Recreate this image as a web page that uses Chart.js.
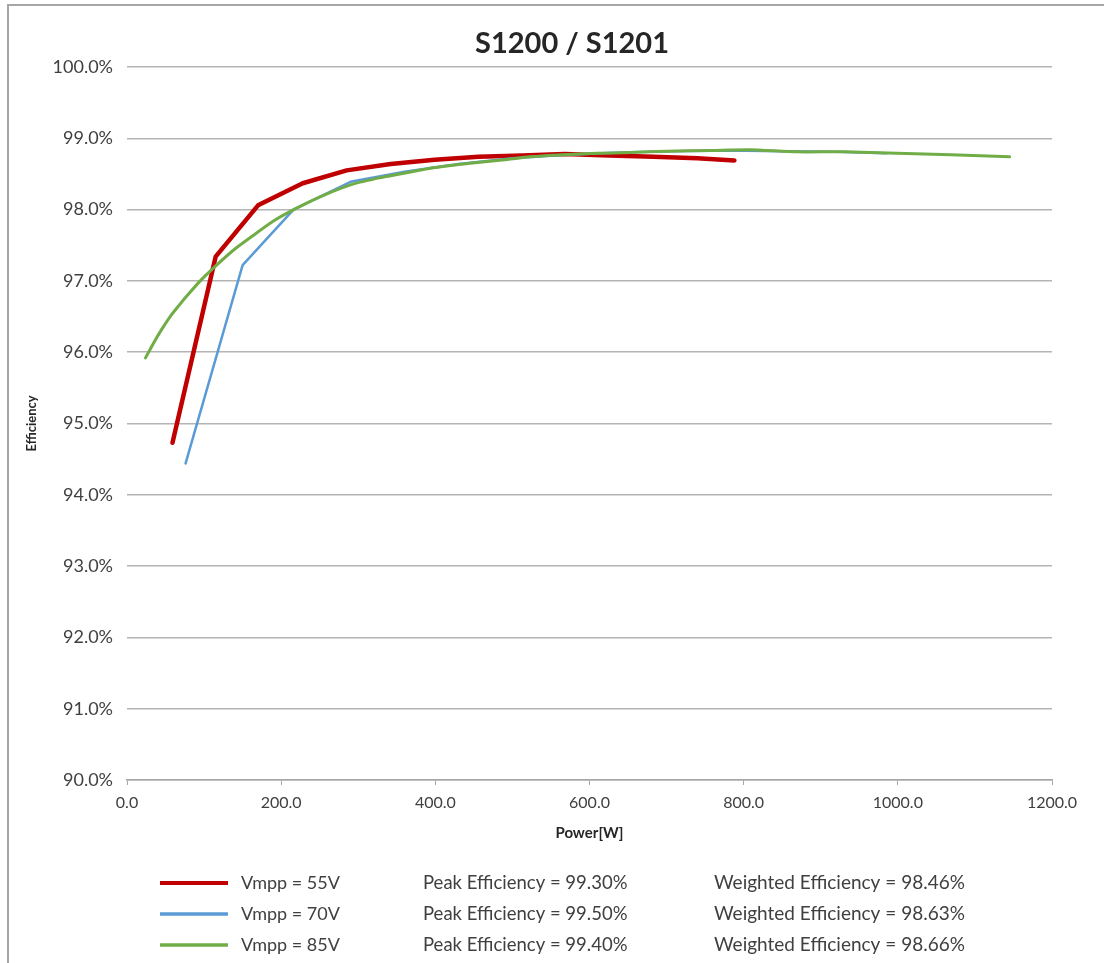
<!DOCTYPE html>
<html>
<head>
<meta charset="utf-8">
<script src="https://cdn.jsdelivr.net/npm/chart.js@4/dist/chart.umd.min.js"></script>
<style>
  html, body { margin: 0; background: #fff; }
</style>
</head>
<body>
<canvas id="effChart" width="1104" height="963"></canvas>
<script>
// S1200 / S1201 efficiency curves

const chartTitle = 'S1200 / S1201';

// Vmpp = 55V
const powerV55 = [59, 115, 170, 228, 285, 342, 399, 456, 513, 568, 626, 683, 740, 788];
const effV55 = [94.73, 97.34, 98.06, 98.37, 98.55, 98.64, 98.70, 98.74, 98.76, 98.78, 98.76, 98.74, 98.72, 98.69];

// Vmpp = 70V
const powerV70 = [76, 150, 216, 290, 360, 430, 500, 570, 640, 710, 780, 850, 920, 985];
const effV70 = [94.44, 97.22, 98.00, 98.39, 98.53, 98.64, 98.72, 98.77, 98.80, 98.82, 98.83, 98.82, 98.81, 98.79];

// Vmpp = 85V
const powerV85 = [24, 34, 45, 56, 67, 77, 95, 112, 138, 164, 190, 220, 255, 294, 330, 359, 400, 445, 490, 523, 566, 610, 653, 700, 758, 808, 868, 930, 999, 1069, 1145];
const effV85 = [95.92, 96.12, 96.32, 96.50, 96.65, 96.78, 97.00, 97.18, 97.43, 97.64, 97.84, 98.02, 98.20, 98.36, 98.45, 98.51, 98.59, 98.65, 98.70, 98.74, 98.77, 98.79, 98.80, 98.82, 98.83, 98.84, 98.81, 98.81, 98.79, 98.77, 98.74];

const seriesLabels = ['Vmpp = 55V', 'Vmpp = 70V', 'Vmpp = 85V'];
const peakLabels = ['Peak Efficiency = 99.30%', 'Peak Efficiency = 99.50%', 'Peak Efficiency = 99.40%'];
const weightedLabels = ['Weighted Efficiency = 98.46%', 'Weighted Efficiency = 98.63%', 'Weighted Efficiency = 98.66%'];
const seriesColors = ['#c00000', '#5b9bd5', '#70ad47'];
const seriesWidths = [4.5, 2.5, 3];

const FONT = 'Lato, "Open Sans", sans-serif';
const TEXT = '#404040';

const toPoints = (xs, ys) => xs.map((x, i) => ({ x: x, y: ys[i] }));

// frame, title and the three-column legend under the plot
const decorations = {
  id: 'decorations',
  beforeDraw(chart) {
    const ctx = chart.ctx;
    ctx.save();
    ctx.strokeStyle = '#a6a6a6';
    ctx.lineWidth = 2;
    ctx.beginPath();
    ctx.moveTo(8, 963);
    ctx.lineTo(8, 5);
    ctx.lineTo(1104, 5);
    ctx.stroke();
    ctx.restore();
  },
  afterDraw(chart) {
    const ctx = chart.ctx;
    ctx.save();
    ctx.fillStyle = '#262626';
    ctx.font = 'bold 29px ' + FONT;
    ctx.textAlign = 'center';
    ctx.textBaseline = 'middle';
    ctx.fillText(chartTitle, 572, 44);

    const rows = [883, 914, 945];
    ctx.textAlign = 'left';
    ctx.fillStyle = TEXT;
    rows.forEach((y, i) => {
      ctx.strokeStyle = seriesColors[i];
      ctx.lineWidth = i === 0 ? 4 : 3.5;
      ctx.beginPath();
      ctx.moveTo(160, y);
      ctx.lineTo(228, y);
      ctx.stroke();
      ctx.font = '18px ' + FONT;
      ctx.fillText(seriesLabels[i], 241, y);
      ctx.font = '18.5px ' + FONT;
      ctx.fillText(peakLabels[i], 423, y);
      ctx.font = '19px ' + FONT;
      ctx.fillText(weightedLabels[i], 714, y);
    });
    ctx.restore();
  }
};

const datasets = [
  { label: seriesLabels[2], data: toPoints(powerV85, effV85), borderColor: seriesColors[2], borderWidth: seriesWidths[2], tension: 0.2, order: 0 },
  { label: seriesLabels[1], data: toPoints(powerV70, effV70), borderColor: seriesColors[1], borderWidth: seriesWidths[1], tension: 0, order: 1 },
  { label: seriesLabels[0], data: toPoints(powerV55, effV55), borderColor: seriesColors[0], borderWidth: seriesWidths[0], tension: 0, order: 2 }
];

new Chart(document.getElementById('effChart'), {
  type: 'line',
  data: { datasets: datasets },
  plugins: [decorations],
  options: {
    responsive: false,
    animation: false,
    devicePixelRatio: 1,
    layout: { padding: { left: 0, right: 52, top: 67, bottom: 121 } },
    elements: { point: { radius: 0 }, line: { borderCapStyle: 'round', borderJoinStyle: 'round' } },
    plugins: {
      legend: { display: false },
      title: { display: false },
      tooltip: { enabled: false }
    },
    scales: {
      x: {
        type: 'linear',
        min: 0,
        max: 1200,
        afterFit: (scale) => { scale.height = 62; },
        ticks: {
          stepSize: 200,
          color: TEXT,
          font: { family: FONT, size: 16 },
          padding: 8,
          maxRotation: 0,
          callback: (v) => v.toFixed(1)
        },
        grid: { drawOnChartArea: false, drawTicks: true, tickLength: 5, color: '#a6a6a6' },
        border: { color: '#a6a6a6', width: 1.5 },
        title: {
          display: true,
          text: 'Power[W]',
          color: '#262626',
          font: { family: FONT, size: 15, weight: 'bold' },
          padding: { top: 0, bottom: 0 }
        }
      },
      y: {
        min: 90,
        max: 100,
        afterFit: (scale) => { scale.width = 127; },
        ticks: {
          stepSize: 1,
          color: TEXT,
          font: { family: FONT, size: 18 },
          padding: 14,
          callback: (v) => v.toFixed(1) + '%'
        },
        grid: { color: '#b4b4b4', lineWidth: 1.5, drawTicks: false },
        border: { display: false },
        title: {
          display: true,
          text: 'Efficiency',
          color: '#262626',
          font: { family: FONT, size: 13, weight: 'bold' },
          padding: { top: 24, bottom: 0 }
        }
      }
    }
  }
});
</script>
</body>
</html>
